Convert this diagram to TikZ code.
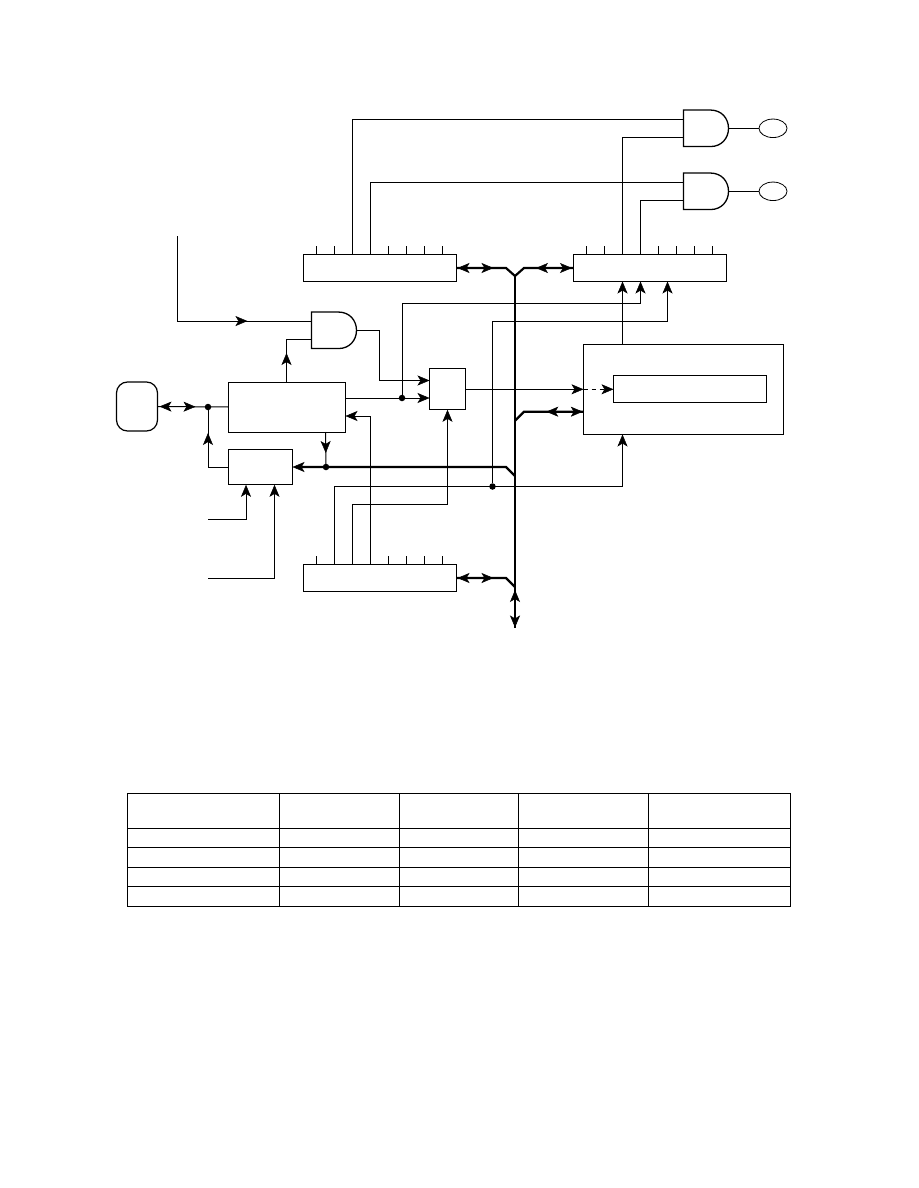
\documentclass[tikz,border=0pt]{standalone}
\usetikzlibrary{arrows.meta,calc,decorations.markings,shapes.geometric}
\tikzset{
  myhead/.tip={Stealth[length=12pt,width=10pt,inset=3pt,line width=0.5pt]},
  thin line/.style={line width=1pt},
  bus line/.style={line width=2.2pt},
  boxn/.style={draw,thin line,inner sep=0pt,outer sep=0pt,rectangle},
  gatebox/.style={inner sep=0pt,outer sep=0pt,rectangle,minimum width=45pt,minimum height=36.5pt},
  lamp/.style={draw,line width=0.8pt,ellipse,inner sep=0pt,outer sep=0pt,minimum width=28pt,minimum height=18.5pt},
  junction/.style={circle,fill=black,inner sep=0pt,outer sep=0pt,minimum size=6.5pt},
  fwdat/.style={postaction={decorate,decoration={markings,mark=at position #1 with {\arrow{myhead}}}}},
  bwdat/.style={postaction={decorate,decoration={markings,mark=at position #1 with {\arrowreversed{myhead}}}}},
  conn/.style={thin line},
  tipc/.style={thin line,-{myhead}},
  busa/.style={bus line},
}
\newcommand{\andoutline}[1]{%
  \draw[line width=1.3pt] ($(#1.north west)$) -- ($(#1.north west)+(27,0)$)
    .. controls ($(#1.north west)+(38,0)$) and ($(#1.east)+(0,-10)$) .. (#1.east)
    .. controls ($(#1.east)+(0,10)$) and ($(#1.south west)+(38,0)$) .. ($(#1.south west)+(27,0)$)
    -- (#1.south west) -- cycle;}
\begin{document}
\begin{tikzpicture}[x=1pt,y=-1pt]
\useasboundingbox (0,0) rectangle (918,1188);
% registers
\node[boxn,minimum width=153pt,minimum height=27pt] (regA) at (380,268) {};
\node[boxn,minimum width=153pt,minimum height=27pt] (regB) at (650,268) {};
\node[boxn,minimum width=153pt,minimum height=27pt] (regC) at (380,578) {};
\node[boxn,minimum width=117pt,minimum height=50pt] (big) at (287,407) {};
\node[boxn,minimum width=64pt,minimum height=35.5pt] (small) at (260.5,467) {};
\node[boxn,minimum width=36pt,minimum height=41.5pt] (mux) at (447.5,389) {};
\node[boxn,minimum width=200pt,minimum height=90pt] (right) at (683.5,389.5) {};
\node[boxn,minimum width=153pt,minimum height=27pt] (inner) at (690,389) {};
\node[boxn,line width=1.2pt,minimum width=41pt,minimum height=49pt,rounded corners=11pt] (ext) at (137,406.5) {};
\node[gatebox] (g1) at (706,128.3) {};
\node[gatebox] (g2) at (706,191.3) {};
\node[gatebox] (g3) at (334,330.3) {};
\node[lamp] (e1) at (773,128.3) {};
\node[lamp] (e2) at (773,191.3) {};
\andoutline{g1}\andoutline{g2}\andoutline{g3}
\node[junction] (d0) at (208,407) {};
\node[junction] (d1) at (402,398) {};
\node[junction] (d2) at (492.5,486.5) {};
\node[junction] (d3) at (326,467) {};
% stubs
\foreach \r in {regA,regB,regC}{
  \foreach \o in {13,85,103,121,139}{
    \draw[conn] ($(\r.north west)+(\o,0)$) -- +(0,-9);}}
\draw[conn] ($(regA.north west)+(31,0)$) -- +(0,-9);
\draw[conn] ($(regB.north west)+(31,0)$) -- +(0,-9);
% pins
\coordinate (a3) at ($(regA.north west)+(49,0)$);
\coordinate (a4) at ($(regA.north west)+(67,0)$);
\coordinate (b3) at ($(regB.north west)+(49,0)$);
\coordinate (b4) at ($(regB.north west)+(67,0)$);
\coordinate (c2) at ($(regC.north west)+(31,0)$);
\coordinate (c3) at ($(regC.north west)+(49,0)$);
\coordinate (c4) at ($(regC.north west)+(67,0)$);
\coordinate (g1a) at ($(g1.north west)+(0,9)$);
\coordinate (g1b) at ($(g1.south west)+(0,-9)$);
\coordinate (g2a) at ($(g2.north west)+(0,9)$);
\coordinate (g2b) at ($(g2.south west)+(0,-9)$);
\coordinate (g3a) at ($(g3.north west)+(0,9)$);
\coordinate (g3b) at ($(g3.south west)+(0,-9)$);
\coordinate (bs1) at (622.5,281.5);
\coordinate (bs2) at (640.5,281.5);
\coordinate (bs3) at (667.5,281.5);
\coordinate (bk2) at (640.5,303);
\coordinate (bk3) at (667.5,321.5);
\coordinate (rt) at (622.5,344.5);
\coordinate (rb) at (622.5,434.5);
\coordinate (bigt) at (286.5,382);
\coordinate (bigb) at (325.5,432);
\coordinate (bigr1) at (345.5,398);
\coordinate (bigr2) at (345.5,416);
\coordinate (m1) at (429.5,380.5);
\coordinate (m2) at (429.5,398);
\coordinate (m3) at (447.5,409.8);
\coordinate (mo) at (465.5,389.3);
\coordinate (rl) at (583.5,389.3);
\coordinate (il) at (613.5,389.3);
\coordinate (rl2) at (583.5,411.7);
\coordinate (ctl) at (177.5,236);
\coordinate (in1) at (208,519);
\coordinate (in2) at (208,578);
\coordinate (s1) at (246,484.8);
\coordinate (s2) at (274.5,484.8);
\coordinate (sl) at (228.5,467);
% bus points
\coordinate (bt) at (515,276);
\coordinate (bb) at (515,628);
\coordinate (ja) at (506,268);
\coordinate (jb) at (524,268);
\coordinate (jc) at (506,578);
\coordinate (jc2) at (515,587);
\coordinate (jd) at (524,411.7);
\coordinate (jd2) at (515,420.7);
\coordinate (je) at (506,467);
\coordinate (je2) at (515,476);
% thin connectors
\draw[conn] (a3) |- (g1a);
\draw[conn] (a4) |- (g2a);
\draw[conn] (b3) |- (g1b);
\draw[conn] (b4) |- (g2b);
\draw[conn] (g1.east) -- (e1.west);
\draw[conn] (g2.east) -- (e2.west);
\draw[conn,fwdat=155pt] (ctl) |- (g3a);
\draw[conn,fwdat=29pt] (bigt) |- (g3b);
\draw[tipc] (g3.east) -| ($(m1)+(-50,0)$) -- (m1);
\draw[tipc] (bigr1) -- (d1) -- (m2);
\draw[tipc] (d1) |- (bk2) -- (bs2);
\draw[tipc] (d2) |- (bk3) -- (bs3);
\draw[tipc] (rt) -- (bs1);
\draw[tipc] (c2) |- ($(rb)+(0,52)$) -- (rb);
\draw[tipc] (c3) |- ($(m3)+(0,94.2)$) -- (m3);
\draw[tipc] (c4) |- (bigr2);
\draw[tipc] (mo) -- (rl);
\draw[thin line,dash pattern=on 4pt off 4pt,-{myhead}] (rl) -- (il);
\draw[conn,fwdat=21pt] (bigb) -- (d3);
\draw[conn,bwdat=2pt,fwdat=38pt] (ext.east) -- (big.west);
\draw[conn,fwdat=54.5pt] (sl) -| (d0);
\draw[tipc] (in1) -| (s1);
\draw[tipc] (in2) -| (s2);
% buses
\draw[busa,bwdat=1pt,fwdat=37pt] (regA.east) -- (ja) -- (bt);
\draw[busa,bwdat=35pt,fwdat=0.99] (jd2) -- (jd) -- (rl2);
\draw[busa,bwdat=24pt,fwdat=60pt] (bt) -- (jb) -- (regB.west);
\draw[busa,bwdat=1pt,fwdat=37pt] (regC.east) -- (jc) -- (jc2);
\draw[busa,-{myhead}] (je2) -- (je) -- (small.east);
\draw[busa,bwdat=314pt,fwdat=351.5pt] (bt) -- (bb);
% table
\draw[conn] (127.5,793.5) rectangle (790.5,906.3);
\foreach \y in {828.3,847.3,867.3,886.3}{\draw[conn] (127.5,\y) -- (790.5,\y);}
\foreach \x in {279.3,399.7,518.5,648.5}{\draw[conn] (\x,793.5) -- (\x,906.3);}
\end{tikzpicture}
\end{document}
